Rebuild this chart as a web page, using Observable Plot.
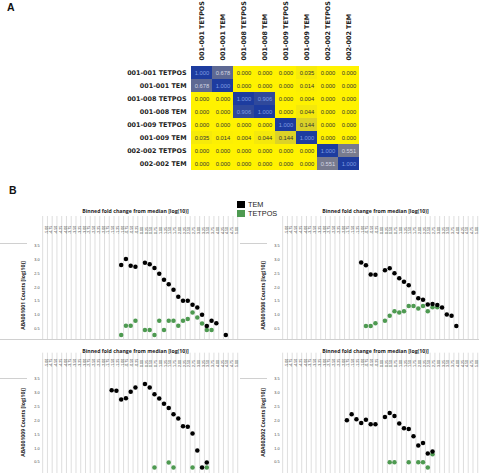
<!DOCTYPE html>
<html><head><meta charset="utf-8">
<script src="https://cdn.jsdelivr.net/npm/d3@7"></script>
<script src="https://cdn.jsdelivr.net/npm/@observablehq/plot@0.6"></script>
<style>
body{margin:0;background:#fff;}
#fig{position:relative;width:479px;height:473px;overflow:hidden;background:#fff;font-family:"Liberation Sans",Arial,sans-serif;}
#fig svg{position:absolute;overflow:visible;}
.plab{position:absolute;font-weight:bold;font-size:10.5px;line-height:1;color:#111;font-family:"Liberation Sans",Arial,sans-serif;}
.sw{position:absolute;width:8px;height:7px;}
.lt{position:absolute;font-size:7.3px;line-height:1;color:#222;font-family:"Liberation Sans",Arial,sans-serif;}
</style></head><body><div id="fig"></div>
<script>
// ---------- Panel A: correlation matrix ----------
const sampleLabels = ["001-001 TETPOS","001-001 TEM","001-008 TETPOS","001-008 TEM","001-009 TETPOS","001-009 TEM","002-002 TETPOS","002-002 TEM"];
const correlation = [
  [1.000,0.678,0.000,0.000,0.000,0.035,0.000,0.000],
  [0.678,1.000,0.000,0.000,0.000,0.014,0.000,0.000],
  [0.000,0.000,1.000,0.906,0.000,0.004,0.000,0.000],
  [0.000,0.000,0.906,1.000,0.000,0.044,0.000,0.000],
  [0.000,0.000,0.000,0.000,1.000,0.144,0.000,0.000],
  [0.035,0.014,0.004,0.044,0.144,1.000,0.000,0.000],
  [0.000,0.000,0.000,0.000,0.000,0.000,1.000,0.551],
  [0.000,0.000,0.000,0.000,0.000,0.000,0.551,1.000]
];

// ---------- Panel B: binned fold change ----------
const binLabels = ["-5.00","-4.75","-4.50","-4.25","-4.00","-3.75","-3.50","-3.25","-3.00","-2.75","-2.50","-2.25","-2.00","-1.75","-1.50","-1.25","-1.00","-0.75","-0.50","-0.25","0.00","0.25","0.50","0.75","1.00","1.25","1.50","1.75","2.00","2.25","2.50","2.75","3.00","3.25","3.50","3.75","4.00","4.25","4.50","4.75","5.00"];
const yTickValues = [0.5,1.0,1.5,2.0,2.5,3.0,3.5];
const seriesNames = ["TEM","TETPOS"];
const seriesColors = ["#000000","#4e9a51"];
const xTitle = "Binned fold change from median [log(10)]";

const aba001001TemX = [-1,-0.75,-0.5,-0.25,0.25,0.5,0.75,1,1.25,1.5,1.75,2,2.25,2.5,2.75,3,3.25,3.5,3.75,4,4.5];
const aba001001TemY = [2.81,3.02,2.78,2.74,2.89,2.83,2.70,2.49,2.27,2.11,1.91,1.66,1.51,1.51,1.37,1.27,1.01,0.60,0.79,0.70,0.28];
const aba001001TetX = [-1,-0.75,-0.5,-0.25,0.25,0.5,0.75,1,1.25,1.5,1.75,2,2.25,2.5,2.75,3,3.25,3.5,3.75];
const aba001001TetY = [0.28,0.61,0.61,0.79,0.46,0.46,0.28,0.79,0.46,0.79,0.79,0.61,0.79,0.85,1.09,0.91,0.69,0.46,0.46];

const aba001008TemX = [-1,-0.75,-0.5,-0.25,0.25,0.5,0.75,1,1.25,1.5,1.75,2,2.25,2.5,2.75,3,3.25,3.5,3.75,4];
const aba001008TemY = [2.90,2.80,2.46,2.45,2.62,2.69,2.51,2.33,2.20,2.07,1.80,1.60,1.55,1.38,1.40,1.36,1.27,1.02,0.97,0.60];
const aba001008TetX = [-0.75,-0.5,-0.25,0.25,0.5,0.75,1,1.25,1.5,1.75,2,2.25,2.5,2.75,3];
const aba001008TetY = [0.60,0.60,0.70,0.79,0.97,1.13,1.09,1.13,1.32,1.32,1.23,1.32,1.13,1.28,1.28];

const aba001009TemX = [-1.5,-1.25,-1,-0.75,-0.5,-0.25,0.25,0.5,0.75,1,1.25,1.5,1.75,2,2.25,2.5,2.75,3,3.25,3.5];
const aba001009TemY = [3.10,3.08,2.77,2.81,3.05,3.20,3.33,3.20,2.96,2.80,2.61,2.46,2.23,2.08,1.80,1.78,1.54,0.92,0.31,0.49];
const aba001009TetX = [0.75,1.5,1.75,2.75,3.5];
const aba001009TetY = [0.31,0.49,0.31,0.31,0.31];

const aba002002TemX = [-1.75,-1.5,-1.25,-1,-0.75,-0.5,-0.25,0.25,0.5,0.75,1,1.25,1.5,1.75,2,2.25,2.5,2.75];
const aba002002TemY = [2.02,2.23,2.05,1.92,2.03,1.87,1.87,2.13,2.28,2.17,1.90,1.73,1.70,1.44,1.10,1.19,0.81,0.89];
const aba002002TetX = [0.5,0.75,1.5,2,2.25,2.5,2.75];
const aba002002TetY = [0.50,0.50,0.50,0.50,0.50,0.31,0.79];

const fig = document.getElementById("fig");
function place(el, left, top) { el.style.left = left + "px"; el.style.top = top + "px"; fig.appendChild(el); return el; }

// ---- Heatmap ----
const cells = [];
sampleLabels.forEach((r, i) => sampleLabels.forEach((c, j) => cells.push({r, c, v: correlation[i][j]})));
const heat = Plot.plot({
  width: 479, height: 180,
  marginLeft: 190, marginRight: 120, marginTop: 63, marginBottom: 7,
  style: {background: "transparent", fontFamily: "DejaVu Sans", color: "#222"},
  x: {domain: sampleLabels, padding: 0},
  y: {domain: sampleLabels, padding: 0},
  color: {type: "linear", domain: [0, 0.5, 1], range: ["#fff200", "#82828c", "#1d3c9f"], interpolate: "rgb"},
  marks: [
    Plot.cell(cells, {x: "c", y: "r", fill: "v"}),
    Plot.text(cells, {filter: d => d.v < 0.5, x: "c", y: "r", text: d => d.v.toFixed(3), fill: "#333", fontSize: 5.8, fontFamily: "Liberation Sans"}),
    Plot.text(cells, {filter: d => d.v >= 0.5 && d.v < 0.85, x: "c", y: "r", text: d => d.v.toFixed(3), fill: "#d4d6e2", fontSize: 5.8, fontFamily: "Liberation Sans"}),
    Plot.text(cells, {filter: d => d.v >= 0.85, x: "c", y: "r", text: d => d.v.toFixed(3), fill: "#7f9be2", fontSize: 5.8, fontFamily: "Liberation Sans"}),
    Plot.axisX({anchor: "top", tickSize: 0, tickPadding: 3, tickRotate: -90, textAnchor: "start", fontSize: 6.4, fontWeight: "bold", label: null}),
    Plot.axisY({anchor: "left", tickSize: 0, tickPadding: 4, fontSize: 6.4, fontWeight: "bold", label: null})
  ]
});
place(heat, 0, 0);

// ---- Scatter panels ----
function panel(o) {
  const W = 240, H = o.height;
  const mt = o.frameTop - o.top, mb = o.top + H - o.frameBottom;
  const xr = [44.55, 234.85];
  const yr = [o.y05 - o.top, o.y35 - o.top];
  const xs = d3.scaleLinear([-5, 5], xr), ys = d3.scaleLinear([0.5, 3.5], yr);
  const bins = binLabels.map(Number);
  const bounds = bins.map(b => b - 0.125).concat([bins[bins.length - 1] + 0.125]);
  const pts = o.tetX.map((x, i) => ({x, y: o.tetY[i], s: "TETPOS"}))
    .concat(o.temX.map((x, i) => ({x, y: o.temY[i], s: "TEM"})));
  const marks = [
    Plot.ruleX(bounds, {stroke: "#d0d0d0", strokeWidth: 0.7}),
    Plot.text(binLabels, {x: d => +d, text: d => d, frameAnchor: "top", dy: o.labelBottom - o.frameTop, rotate: -90, textAnchor: "start", fontSize: 3.6, fill: "#333"}),
    Plot.text(yTickValues, {y: d => d, text: d => d.toFixed(1), frameAnchor: "left", dx: 39, textAnchor: "end", fontSize: 3.8, fill: "#444"}),
    Plot.text([xTitle], {frameAnchor: "top-left", dx: 135, dy: o.titleY - o.frameTop, textAnchor: "middle", fontSize: 5.2, fontWeight: "bold", fontFamily: "Open Sans", fill: "#222"}),
    Plot.text([o.name + " Counts [log(10)]"], {frameAnchor: "top-left", dx: 20.7, dy: o.yTitleCenter - o.frameTop, textAnchor: "middle", rotate: -90, fontSize: 5.1, fontWeight: "bold", fontFamily: "Open Sans", fill: "#222"}),
    Plot.ruleY([ys.invert(o.sepY - o.top)], {x1: xs.invert(0), x2: xs.invert(27), stroke: "#c4c4c4", strokeWidth: 0.8}),
    Plot.dot(pts, {x: "x", y: "y", fill: "s", r: 2.25})
  ];
  if (o.bottomLine) marks.push(Plot.ruleY([ys.invert(o.frameBottom - o.top)], {stroke: "#c4c4c4", strokeWidth: 0.8}));
  const svg = Plot.plot({
    width: W, height: H,
    marginLeft: 0, marginRight: 0, marginTop: mt, marginBottom: mb,
    style: {background: "transparent", fontFamily: "Liberation Sans"},
    x: {domain: [-5, 5], range: xr, axis: null},
    y: {domain: [0.5, 3.5], range: yr, axis: null},
    color: {domain: seriesNames, range: seriesColors},
    marks
  });
  place(svg, o.left, o.top);
}

const topRow = {top: 200, height: 140, frameTop: 216, frameBottom: 339, y35: 245.3, y05: 328.3, titleY: 209, labelBottom: 233.5, sepY: 243, yTitleCenter: 295, bottomLine: true};
const botRow = {top: 340, height: 133, frameTop: 352.7, frameBottom: 473, y35: 378.7, y05: 461.7, titleY: 349, labelBottom: 366.5, sepY: 378, yTitleCenter: 422, bottomLine: false};

panel({...topRow, left: 0, name: "ABA001001", temX: aba001001TemX, temY: aba001001TemY, tetX: aba001001TetX, tetY: aba001001TetY});
panel({...topRow, left: 240, name: "ABA001008", temX: aba001008TemX, temY: aba001008TemY, tetX: aba001008TetX, tetY: aba001008TetY});
panel({...botRow, left: 0, name: "ABA001009", temX: aba001009TemX, temY: aba001009TemY, tetX: aba001009TetX, tetY: aba001009TetY});
panel({...botRow, left: 240, name: "ABA002002", temX: aba002002TemX, temY: aba002002TemY, tetX: aba002002TetX, tetY: aba002002TetY});

// ---- Panel letters and legend ----
function div(cls, text, left, top, extra) {
  const d = document.createElement("div"); d.className = cls; if (text) d.textContent = text;
  if (extra) Object.assign(d.style, extra);
  return place(d, left, top);
}
div("plab", "A", 7, 2);
div("plab", "B", 9, 185);
seriesNames.forEach((s, i) => {
  div("sw", "", 237, 201 + i * 9, {background: seriesColors[i]});
  div("lt", s, 248, 201 + i * 9);
});
</script></body></html>
